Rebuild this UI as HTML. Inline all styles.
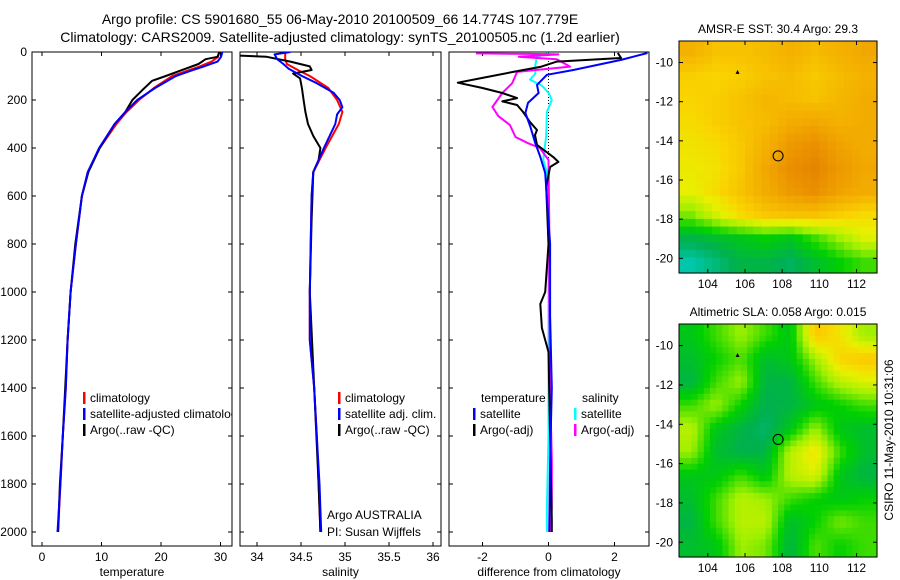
<!DOCTYPE html>
<html><head><meta charset="utf-8"><style>
html,body{margin:0;padding:0;background:#fff;}
svg{display:block;font-family:"Liberation Sans",sans-serif;}
text{font-size:12px;fill:#000;}
</style></head><body>
<svg id="fig" width="900" height="580" viewBox="0 0 900 580" xmlns="http://www.w3.org/2000/svg">
<defs>
<clipPath id="c1"><rect x="32" y="52" width="200" height="494"/></clipPath>
<clipPath id="c2"><rect x="240" y="52" width="201" height="494"/></clipPath>
<clipPath id="c3"><rect x="449" y="52" width="200" height="494"/></clipPath>
</defs>
<text x="340" y="24" text-anchor="middle" style="font-size:14px">Argo profile: CS 5901680_55 06-May-2010 20100509_66 14.774S 107.779E</text>
<text x="340" y="42" text-anchor="middle" style="font-size:14px">Climatology: CARS2009. Satellite-adjusted climatology: synTS_20100505.nc (1.2d earlier)</text>
<g id="g1"></g>
<g id="g2"></g>
<g id="g3"></g>
<g id="m1"></g>
<g id="m2"></g>
<text x="778" y="33" text-anchor="middle">AMSR-E SST: 30.4 Argo: 29.3</text>
<text x="778" y="316" text-anchor="middle">Altimetric SLA: 0.058 Argo: 0.015</text>
<text transform="translate(893,440) rotate(-90)" text-anchor="middle">CSIRO 11-May-2010 10:31:06</text>
</svg>
<script>
const NS='http://www.w3.org/2000/svg';
// ---------- profile data ----------
const tDepth=[0,20,40,60,80,100,150,200,250,300,400,500,600,800,1000,1200,1400,1600,1800,2000];
const tClim=[29.8,29.6,28.5,26.5,24.2,21.9,18.8,16.3,14.2,12.5,9.7,7.7,6.7,5.7,4.8,4.3,4.0,3.5,3.1,2.7];
const tSat=[30.3,30.1,29.5,27.2,24.8,22.5,19.0,16.0,14.0,12.2,9.6,7.7,6.7,5.7,4.8,4.3,4.0,3.5,3.1,2.6];
const aDepth=[0,20,30,50,80,100,120,160,200,250,300,400,500,600,800,1000,1200,1400,1600,1800,2000];
const tArgo=[29.8,29.5,27.5,26.3,23.0,20.8,18.5,16.8,15.2,14.0,12.2,9.7,7.8,6.7,5.6,4.8,4.3,3.9,3.5,3.0,2.7];
const sDepth=[0,30,50,80,100,150,200,250,300,400,500,600,800,1000,1200,1400,1600,1800,2000];
const sClim=[34.32,34.32,34.34,34.49,34.6,34.81,34.91,34.97,34.93,34.78,34.64,34.62,34.61,34.6,34.6,34.65,34.68,34.7,34.72];
const sSatD=[0,10,30,50,70,100,130,170,200,230,260,300,400,500,600,800,1000,1200,1400,1600,1800,2000];
const sSat=[34.38,34.2,34.23,34.3,34.36,34.51,34.68,34.87,34.94,34.97,34.91,34.89,34.76,34.64,34.62,34.61,34.6,34.6,34.65,34.68,34.71,34.73];
const sArgoD=[15,20,40,60,75,90,110,150,200,250,300,350,400,450,500,700,1000,1400,1800,2000];
const sArgo=[33.8,34.11,34.38,34.6,34.62,34.41,34.49,34.51,34.53,34.55,34.58,34.64,34.72,34.70,34.64,34.62,34.6,34.65,34.7,34.72];
const dBlueD=[4,33,75,95,137,171,212,254,312,380,437,504,800,1100,1400,1700,2000];
const dBlue=[3.0,2.2,0.75,-0.05,-0.35,-0.3,-0.62,-0.7,-0.55,-0.4,-0.25,-0.1,0.05,0.05,0.1,0.05,0.02];
const dBlackD=[4,25,40,62,83,108,128,150,171,192,206,221,250,292,325,346,387,437,458,479,562,800,1000,1050,1150,1250,1600,1950,2000];
const dBlack=[2.1,2.2,0.25,-0.25,-1.07,-2.0,-2.75,-2.0,-1.4,-0.95,-1.4,-0.95,-0.77,-0.56,-0.35,-0.41,-0.35,0.14,0.3,0.05,-0.07,0.0,-0.1,-0.25,-0.2,0.0,0.05,0.1,0.1];
const dMagD=[6,8,10,20,30,61,83,130,171,229,267,304,354,380,400,450,700,1000,1400,1700,1900,2000];
const dMag=[-2.2,-0.6,0.3,-0.9,0.25,0.65,-0.95,-1.1,-1.4,-1.7,-1.52,-1.17,-1.0,-0.62,-0.26,0.0,0.02,0.02,0.05,0.1,0.1,0.05];
const dCyanD=[4,20,54,90,115,140,170,200,250,350,450,500,800,1200,1600,1900,2000];
const dCyan=[0.0,-0.35,-0.4,-0.4,-0.56,-0.2,0.0,0.1,-0.05,-0.07,-0.16,-0.05,0.0,0.0,0.0,-0.05,-0.05];
const depthTicks=[0,200,400,600,800,1000,1200,1400,1600,1800,2000];
const tTicks=[0,10,20,30];
const sTicks=[34,34.5,35,35.5,36];
const dTicks=[-2,0,2];
// ---------- axis functions ----------
const yD=d=>52+d*0.24;
const xT=v=>42+v*5.95;
const xS=v=>257+(v-34)*88;
const xDf=v=>548.5+v*33;
function el(tag,attrs,parent){const e=document.createElementNS(NS,tag);for(const k in attrs)e.setAttribute(k,attrs[k]);parent.appendChild(e);return e;}
function txt(parent,x,y,s,anchor){const t=el('text',{x:x,y:y,'text-anchor':anchor||'start'},parent);t.textContent=s;return t;}
function line(parent,depths,vals,fx,color,w,clip,name){
  const pts=vals.map((v,i)=>fx(v).toFixed(1)+','+yD(depths[i]).toFixed(1)).join(' ');
  const p=el('polyline',{points:pts,fill:'none',stroke:color,'stroke-width':w,'stroke-linejoin':'round','clip-path':'url(#'+clip+')'},parent);
  
  
}
function panel(g,x0,x1,ticks,fx,fmt,label,showY){
  el('rect',{x:x0,y:52,width:x1-x0,height:494,fill:'none',stroke:'#000','stroke-width':1},g);
  depthTicks.forEach(d=>{
    el('line',{x1:x0,x2:x0+4,y1:yD(d),y2:yD(d),stroke:'#000'},g);
    el('line',{x1:x1,x2:x1-4,y1:yD(d),y2:yD(d),stroke:'#000'},g);
    if(showY){const t=txt(g,27,yD(d)+4,String(d),'end');}
  });
  ticks.forEach(v=>{
    el('line',{x1:fx(v),x2:fx(v),y1:546,y2:542,stroke:'#000'},g);
    el('line',{x1:fx(v),x2:fx(v),y1:52,y2:56,stroke:'#000'},g);
    const t=txt(g,fx(v),561,fmt(v),'middle');
    
    
  });
  const t=txt(g,(x0+x1)/2,576,label,'middle');
  
  
}
function legend(g,x,y,color,label,clipId){
  el('rect',{x:x,y:y-10,width:2.5,height:12,fill:color},g);
  const t=txt(g,x+7,y,label);
  if(clipId)t.setAttribute('clip-path','url(#'+clipId+')');
  
  
}
const g1=document.getElementById('g1'),g2=document.getElementById('g2'),g3=document.getElementById('g3');
panel(g1,32,232,tTicks,xT,v=>String(v),'temperature',true);
line(g1,tDepth,tClim,xT,'#f00',2,'c1','temp-climatology-line');
line(g1,aDepth,tArgo,xT,'#000',2,'c1','temp-argo-line');
line(g1,tDepth,tSat,xT,'#00f',2,'c1','temp-satellite-line');
legend(g1,83,402,'#f00','climatology');
legend(g1,83,418,'#00f','satellite-adjusted climatology','c1');
legend(g1,83,434,'#000','Argo(..raw -QC)');
panel(g2,240,441,sTicks,xS,v=>String(v),'salinity',false);
line(g2,sDepth,sClim,xS,'#f00',2,'c2','sal-climatology-line');
line(g2,sArgoD,sArgo,xS,'#000',2,'c2','sal-argo-line');
line(g2,sSatD,sSat,xS,'#00f',2,'c2','sal-satellite-line');
legend(g2,338,402,'#f00','climatology');
legend(g2,338,418,'#00f','satellite adj. clim.');
legend(g2,338,434,'#000','Argo(..raw -QC)');
(function(){const t=txt(g2,327,519,'Argo AUSTRALIA');
const u=txt(g2,327,536,'PI: Susan Wijffels');})();
panel(g3,449,649,dTicks,xDf,v=>String(v),'difference from climatology',false);
el('line',{x1:xDf(0),x2:xDf(0),y1:yD(0),y2:yD(450),stroke:'#000','stroke-dasharray':'1,2'},g3);
line(g3,dCyanD,dCyan,xDf,'#0ff',2,'c3','sal-satellite-diff-line');
line(g3,dMagD,dMag,xDf,'#f0f',2,'c3','sal-argo-diff-line');
line(g3,dBlackD,dBlack,xDf,'#000',2,'c3','temp-argo-diff-line');
line(g3,dBlueD,dBlue,xDf,'#00f',2,'c3','temp-satellite-diff-line');
(function(){const t=txt(g3,481,402,'temperature');
const u=txt(g3,582,402,'salinity');})();
legend(g3,473,418,'#00f','satellite');
legend(g3,473,434,'#000','Argo(-adj)');
legend(g3,574,418,'#0ff','satellite');
legend(g3,574,434,'#f0f','Argo(-adj)');
// ---------- maps ----------
const lonTicks=[104,106,108,110,112];
const latTicks=[-10,-12,-14,-16,-18,-20];
const sstGrid=[
[0.66,0.63,0.63,0.64,0.66,0.64,0.66,0.68],
[0.61,0.60,0.61,0.63,0.64,0.62,0.64,0.66],
[0.60,0.61,0.63,0.65,0.64,0.63,0.65,0.67],
[0.59,0.61,0.63,0.64,0.67,0.68,0.66,0.67],
[0.58,0.59,0.62,0.66,0.71,0.73,0.69,0.67],
[0.57,0.58,0.62,0.68,0.73,0.75,0.71,0.68],
[0.56,0.59,0.63,0.67,0.71,0.73,0.69,0.67],
[0.48,0.54,0.59,0.62,0.63,0.63,0.61,0.59],
[0.36,0.38,0.40,0.42,0.40,0.45,0.50,0.55],
[0.28,0.32,0.36,0.36,0.34,0.38,0.42,0.45]];
const slaGrid=[
[0.40,0.45,0.50,0.45,0.40,0.62,0.58,0.50],
[0.38,0.42,0.46,0.38,0.40,0.50,0.60,0.62],
[0.36,0.45,0.50,0.36,0.36,0.45,0.52,0.55],
[0.45,0.50,0.42,0.35,0.36,0.40,0.42,0.45],
[0.52,0.40,0.36,0.33,0.40,0.50,0.40,0.38],
[0.50,0.38,0.35,0.36,0.52,0.58,0.45,0.38],
[0.40,0.40,0.45,0.40,0.52,0.55,0.40,0.36],
[0.38,0.45,0.52,0.50,0.45,0.42,0.40,0.42],
[0.36,0.45,0.52,0.52,0.38,0.42,0.48,0.45],
[0.38,0.40,0.50,0.48,0.36,0.46,0.42,0.45]];
const argoLon=107.78, argoLat=-14.77;
const stops=[[0.25,[0,208,208]],[0.35,[0,176,80]],[0.42,[0,208,0]],[0.5,[160,240,0]],[0.56,[232,240,0]],[0.6,[250,212,0]],[0.65,[245,182,0]],[0.72,[236,148,0]],[0.8,[215,110,0]],[0.9,[192,64,0]]];
function cmap(v){
  if(v<=stops[0][0])return 'rgb('+stops[0][1]+')';
  for(let i=1;i<stops.length;i++){if(v<=stops[i][0]){const a=stops[i-1],b=stops[i],f=(v-a[0])/(b[0]-a[0]);
    return 'rgb('+a[1].map((c,k)=>Math.round(c+(b[1][k]-c)*f)).join(',')+')';}}
  return 'rgb('+stops[stops.length-1][1]+')';
}
function sample(grid,fr,fc){
  const R=grid.length-1,C=grid[0].length-1;
  fr=Math.max(0,Math.min(R,fr));fc=Math.max(0,Math.min(C,fc));
  const r0=Math.floor(fr),c0=Math.floor(fc),r1=Math.min(R,r0+1),c1=Math.min(C,c0+1),a=fr-r0,b=fc-c0;
  return grid[r0][c0]*(1-a)*(1-b)+grid[r0][c1]*(1-a)*b+grid[r1][c0]*a*(1-b)+grid[r1][c1]*a*b;
}
function map(g,top,bottom,grid,name,up){
  const x0=679,x1=877;
  const fx=lon=>x0+(lon-102.45)*(x1-x0)/(113.1-102.45);
  const fy=lat=>top+(-8.9-lat)*(bottom-top)/(20.75-8.9);
  const rows=grid.length*up,cols=grid[0].length*up,cw=(x1-x0)/cols,ch=(bottom-top)/rows;
  for(let r=0;r<rows;r++)for(let c=0;c<cols;c++){
    const v=sample(grid,(r+0.5)/up-0.5,(c+0.5)/up-0.5);
    const e=el('rect',{x:(x0+c*cw).toFixed(2),y:(top+r*ch).toFixed(2),width:(cw+0.6).toFixed(2),height:(ch+0.6).toFixed(2),fill:cmap(v)},g);
    
    
  }
  el('rect',{x:x0,y:top,width:x1-x0,height:bottom-top,fill:'none',stroke:'#000'},g);
  lonTicks.forEach(l=>{
    el('line',{x1:fx(l),x2:fx(l),y1:bottom,y2:bottom-4,stroke:'#000'},g);
    el('line',{x1:fx(l),x2:fx(l),y1:top,y2:top+4,stroke:'#000'},g);
    const t=txt(g,fx(l),bottom+15,String(l),'middle');
  });
  latTicks.forEach(l=>{
    el('line',{x1:x0,x2:x0+4,y1:fy(l),y2:fy(l),stroke:'#000'},g);
    el('line',{x1:x1,x2:x1-4,y1:fy(l),y2:fy(l),stroke:'#000'},g);
    const t=txt(g,673,fy(l)+4,'-'+Math.abs(l),'end');
  });
  const c=el('circle',{cx:fx(argoLon),cy:fy(argoLat),r:5,fill:'none',stroke:'#000','stroke-width':1},g);
  
  
  const m=el('path',{d:'M'+(fx(105.6)-2)+','+(fy(-10.5)+1.5)+'l2,-4l2,4z',fill:'#000'},g);
  
  
}
map(document.getElementById('m1'),41,273,sstGrid,'sst',3);
map(document.getElementById('m2'),324,557,slaGrid,'sla',4);
</script>
</body></html>
